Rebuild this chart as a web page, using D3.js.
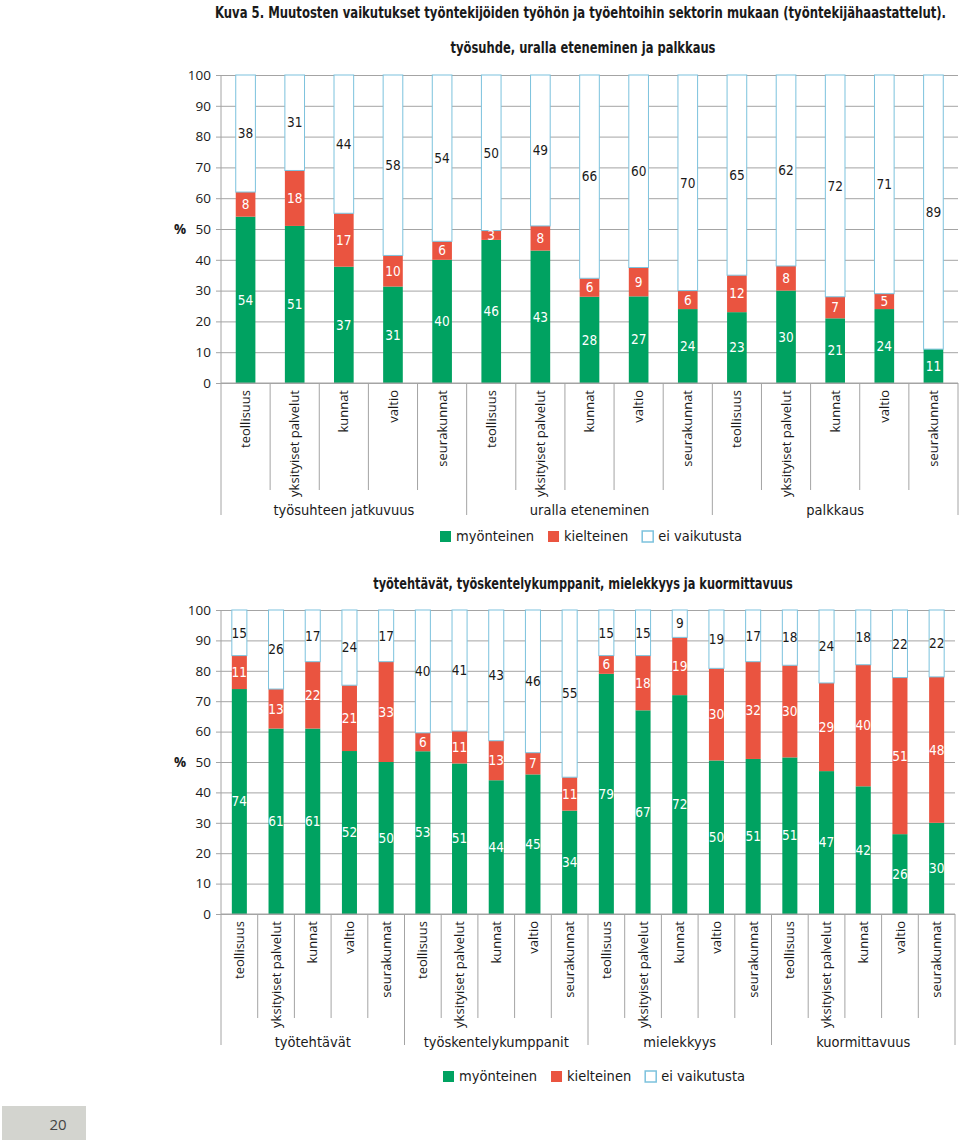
<!DOCTYPE html>
<html>
<head>
<meta charset="utf-8">
<script src="https://cdn.jsdelivr.net/npm/d3@7"></script>
<style>
  body{ margin:0; background:#fff; }
  #vis{ display:block; }
</style>
</head>
<body>
<svg id="vis"></svg>
<script>
  var width = 960,
    height = 1142,
    //colors
    green = "#00a261",
    red = "#ea5440",
    blueLine = "#7cc2dd",
    grid = "#a4a4a4",
    ink = "#1a1a1a",
    condensed = "'Liberation Sans Narrow', 'DejaVu Sans Condensed', 'Roboto Condensed', sans-serif",
    regular = "'Open Sans', 'Noto Sans', sans-serif";

  // data -------------------------------------------------
  var sectors = ["teollisuus", "yksityiset palvelut", "kunnat", "valtio", "seurakunnat"];
  var seriesNames = ["myönteinen", "kielteinen", "ei vaikutusta"];
  var yTicks = [0, 10, 20, 30, 40, 50, 60, 70, 80, 90, 100];

  var topGroups = ["työsuhteen jatkuvuus", "uralla eteneminen", "palkkaus"];
  var topPositive = [54, 51, 37, 31, 40, 46, 43, 28, 27, 24, 23, 30, 21, 24, 11];
  var topNegative = [8, 18, 17, 10, 6, 3, 8, 6, 9, 6, 12, 8, 7, 5, 0];
  var topNone = [38, 31, 44, 58, 54, 50, 49, 66, 60, 70, 65, 62, 72, 71, 89];

  var bottomGroups = ["työtehtävät", "työskentelykumppanit", "mielekkyys", "kuormittavuus"];
  var bottomPositive = [74, 61, 61, 52, 50, 53, 51, 44, 45, 34, 79, 67, 72, 50, 51, 51, 47, 42, 26, 30];
  var bottomNegative = [11, 13, 22, 21, 33, 6, 11, 13, 7, 11, 6, 18, 19, 30, 32, 30, 29, 40, 51, 48];
  var bottomNone = [15, 26, 17, 24, 17, 40, 41, 43, 46, 55, 15, 15, 9, 19, 17, 18, 24, 18, 22, 22];

  var svg = d3.select("#vis")
    .attr("width", width)
    .attr("height", height);

  // bold title squeezed horizontally to a target width (condensed look)
  function squeezedTitle(parent, txt, x, y, target, anchor) {
    var t = parent.append("text")
      .attr("text-anchor", anchor)
      .style("font-family", condensed)
      .style("font-weight", "bold")
      .style("font-size", "15px")
      .style("fill", ink)
      .text(txt);
    var k = Math.min(1, target / t.node().getComputedTextLength());
    t.attr("transform", "translate(" + x + "," + y + ") scale(" + k + ",1)");
    return t;
  }

  // main title
  squeezedTitle(svg, "Kuva 5. Muutosten vaikutukset työntekijöiden työhön ja työehtoihin sektorin mukaan (työntekijähaastattelut).",
    215, 18, 732, "start");

  drawChart({
    groups: topGroups, pos: topPositive, neg: topNegative, none: topNone,
    title: "työsuhde, uralla eteneminen ja palkkaus", titleY: 53, titleLen: 265,
    left: 221, right: 958, top: 75, bottom: 383, pad: 0.6,
    labelTop: 390, catLineEnd: 490, groupLineEnd: 515, groupLabelY: 515,
    legendX: 440, legendY: 536
  });

  drawChart({
    groups: bottomGroups, pos: bottomPositive, neg: bottomNegative, none: bottomNone,
    title: "työtehtävät, työskentelykumppanit, mielekkyys ja kuormittavuus", titleY: 589, titleLen: 420,
    left: 221, right: 955, top: 610, bottom: 914, pad: 0.59,
    labelTop: 921, catLineEnd: 1018, groupLineEnd: 1045, groupLabelY: 1047,
    legendX: 443, legendY: 1076
  });

  // page number box
  svg.append("rect")
    .attr("x", 2).attr("y", 1106)
    .attr("width", 84).attr("height", 34)
    .style("fill", "#d3d4cf");
  svg.append("text")
    .attr("x", 58).attr("y", 1130)
    .attr("text-anchor", "middle")
    .style("font-family", regular)
    .style("font-size", "15px")
    .style("fill", "#444")
    .text("20");

  // chart function -------------------------------------------------
  function drawChart(c) {
    var rows = [];
    c.groups.forEach(function(gName, gi) {
      sectors.forEach(function(s, si) {
        var i = gi * sectors.length + si;
        rows.push({ key: gName + "|" + s, group: gName, sector: s,
          pos: c.pos[i], neg: c.neg[i], none: c.none[i] });
      });
    });

    var x = d3.scaleBand()
      .domain(rows.map(d => d.key))
      .range([c.left, c.right])
      .paddingInner(c.pad)
      .paddingOuter(c.pad / 2);

    var y = d3.scaleLinear()
      .domain([0, 100])
      .range([c.bottom, c.top]);

    var layers = d3.stack()
      .keys(["pos", "neg", "none"])
      .offset(d3.stackOffsetExpand)(rows);

    var g = svg.append("g");

    // title
    squeezedTitle(g, c.title, 583, c.titleY, c.titleLen, "middle");

    // y axis + gridlines
    var ga = g.append("g")
      .attr("transform", "translate(" + c.left + ",0)")
      .call(d3.axisLeft(y).tickValues(yTicks).tickSize(-(c.right - c.left)).tickPadding(10));
    ga.select(".domain").remove();
    ga.selectAll(".tick line").attr("x1", -5).attr("stroke", grid);
    ga.selectAll(".tick text")
      .style("font-family", regular)
      .style("font-size", "13.5px")
      .style("fill", ink);

    g.append("text")
      .attr("x", 180)
      .attr("y", y(50))
      .attr("dy", "0.35em")
      .attr("text-anchor", "middle")
      .style("font-family", regular)
      .style("font-weight", "bold")
      .style("font-size", "13.5px")
      .style("fill", ink)
      .text("%");

    // bars
    var fills = { pos: green, neg: red, none: "#fff" };
    layers.forEach(function(layer) {
      g.selectAll(".seg-" + layer.key)
        .data(layer.filter(d => d.data[layer.key] > 0))
        .enter().append("rect")
        .attr("class", "seg-" + layer.key)
        .attr("x", d => x(d.data.key))
        .attr("width", x.bandwidth())
        .attr("y", d => y(d[1] * 100))
        .attr("height", d => y(d[0] * 100) - y(d[1] * 100))
        .style("fill", fills[layer.key])
        .style("stroke", layer.key == "none" ? blueLine : "none")
        .style("stroke-width", 1);
    });

    // value labels
    layers.forEach(function(layer) {
      g.selectAll(".lab-" + layer.key)
        .data(layer.filter(d => d.data[layer.key] > 0))
        .enter().append("text")
        .attr("class", "lab-" + layer.key)
        .attr("x", d => x(d.data.key) + x.bandwidth() / 2)
        .attr("y", d => y((d[0] + d[1]) / 2 * 100))
        .attr("dy", "0.35em")
        .attr("text-anchor", "middle")
        .style("font-family", condensed)
        .style("font-size", "13.5px")
        .style("fill", layer.key == "none" ? ink : "#fff")
        .text(d => d.data[layer.key]);
    });

    // axis lines
    g.append("line")
      .attr("x1", c.left).attr("x2", c.left)
      .attr("y1", c.top).attr("y2", c.bottom)
      .style("stroke", grid);
    g.append("line")
      .attr("x1", c.left).attr("x2", c.right)
      .attr("y1", c.bottom).attr("y2", c.bottom)
      .style("stroke", grid);

    // category separators
    var step = x.step();
    d3.range(rows.length + 1).forEach(function(i) {
      g.append("line")
        .attr("x1", c.left + step * i).attr("x2", c.left + step * i)
        .attr("y1", c.bottom)
        .attr("y2", i % sectors.length == 0 ? c.groupLineEnd : c.catLineEnd)
        .style("stroke", grid);
    });

    // category labels
    g.selectAll(".cat")
      .data(rows)
      .enter().append("text")
      .attr("class", "cat")
      .attr("transform", d => "translate(" + (x(d.key) + x.bandwidth() / 2) + "," + c.labelTop + ") rotate(-90)")
      .attr("dy", "0.35em")
      .attr("text-anchor", "end")
      .style("font-family", regular)
      .style("font-size", "13px")
      .style("fill", ink)
      .text(d => d.sector);

    // group labels
    c.groups.forEach(function(gName, gi) {
      g.append("text")
        .attr("x", c.left + step * (gi + 0.5) * sectors.length)
        .attr("y", c.groupLabelY)
        .attr("text-anchor", "middle")
        .style("font-family", condensed)
        .style("font-size", "14.5px")
        .style("fill", ink)
        .text(gName);
    });

    // legend
    var cx = c.legendX;
    var swatch = [
      { fill: green, stroke: "none" },
      { fill: red, stroke: "none" },
      { fill: "#fff", stroke: blueLine }
    ];
    seriesNames.forEach(function(name, i) {
      g.append("rect")
        .attr("x", cx).attr("y", c.legendY - 5)
        .attr("width", 11).attr("height", 11)
        .style("fill", swatch[i].fill)
        .style("stroke", swatch[i].stroke)
        .style("stroke-width", 1.5);
      var lt = g.append("text")
        .attr("x", cx + 16)
        .attr("y", c.legendY)
        .attr("dy", "0.35em")
        .style("font-family", condensed)
        .style("font-size", "14.5px")
        .style("fill", ink)
        .text(name);
      cx += 16 + lt.node().getComputedTextLength() + 14;
    });
  }
</script>
</body>
</html>
